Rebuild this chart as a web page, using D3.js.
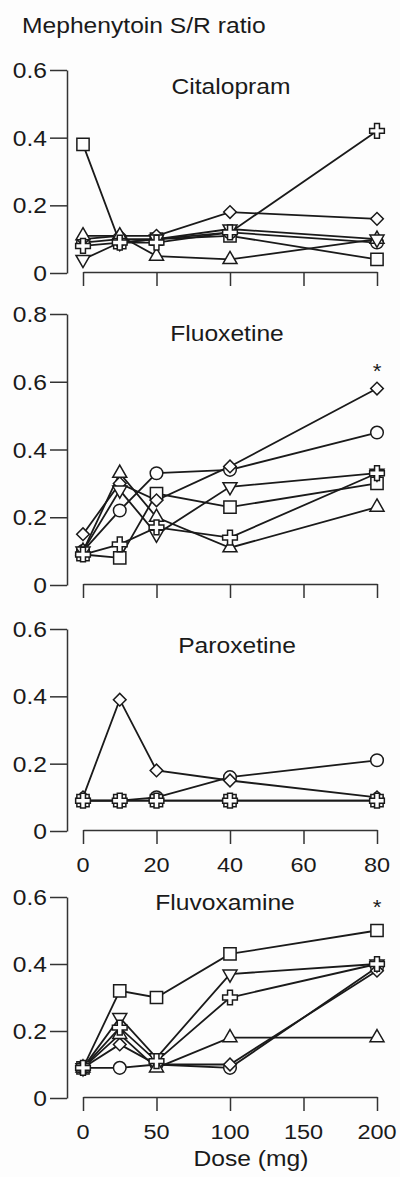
<!DOCTYPE html>
<html>
<head>
<meta charset="utf-8">
<script src="https://cdn.jsdelivr.net/npm/d3@7"></script>
<style>
  body { margin: 0; background: #fdfdfd; }
  svg { display: block; }
</style>
</head>
<body>
<div id="chart"></div>
<script>
(function(){

  var width = 400;
  var height = 1177;

  // doses per panel
  var dosesLow = [0, 10, 20, 40, 80];
  var dosesFluvox = [0, 25, 50, 100, 200];

  // tick labels
  var yTicks06 = [0, 0.2, 0.4, 0.6];
  var yTicks08 = [0, 0.2, 0.4, 0.6, 0.8];
  var xTicksLow = [0, 20, 40, 60, 80];
  var xTicksFluvox = [0, 50, 100, 150, 200];

  // Citalopram, one array per subject (marker shape)
  var citSquare   = [0.38, 0.09, 0.10, 0.11, 0.04];
  var citCircle   = [0.09, 0.10, 0.10, 0.12, 0.09];
  var citDiamond  = [0.10, 0.11, 0.11, 0.18, 0.16];
  var citTriUp    = [0.11, 0.11, 0.05, 0.04, 0.10];
  var citTriDown  = [0.04, 0.09, 0.10, 0.13, 0.10];
  var citCross    = [0.08, 0.09, 0.09, 0.12, 0.42];

  // Fluoxetine
  var fluoSquare  = [0.09, 0.08, 0.27, 0.23, 0.30];
  var fluoCircle  = [0.10, 0.22, 0.33, 0.34, 0.45];
  var fluoDiamond = [0.15, 0.30, 0.25, 0.35, 0.58];
  var fluoTriUp   = [0.10, 0.33, 0.20, 0.11, 0.23];
  var fluoTriDown = [0.10, 0.28, 0.15, 0.29, 0.33];
  var fluoCross   = [0.09, 0.12, 0.17, 0.14, 0.33];

  // Paroxetine
  var parSquare   = [0.09, 0.09, 0.09, 0.09, 0.09];
  var parCircle   = [0.09, 0.09, 0.10, 0.16, 0.21];
  var parDiamond  = [0.10, 0.39, 0.18, 0.15, 0.10];
  var parCross    = [0.09, 0.09, 0.09, 0.09, 0.09];

  // Fluvoxamine
  var fluvSquare  = [0.09, 0.32, 0.30, 0.43, 0.50];
  var fluvCircle  = [0.09, 0.09, 0.10, 0.09, 0.39];
  var fluvDiamond = [0.09, 0.16, 0.10, 0.10, 0.38];
  var fluvTriUp   = [0.09, 0.19, 0.09, 0.18, 0.18];
  var fluvTriDown = [0.09, 0.24, 0.12, 0.37, 0.40];
  var fluvCross   = [0.09, 0.21, 0.11, 0.30, 0.40];

  var ink = '#1a1a1a';
  var font = '"Liberation Sans", Arial, sans-serif';
  var sx = 1.12; // the scanned lettering is a bit wide

  var panels = [
    { name: 'Citalopram', doses: dosesLow, xMax: 80, xTicks: xTicksLow, showX: false,
      yMax: 0.6, yTicks: yTicks06, yRange: [273, 70], titleX: 231, titleY: 0.53, star: null,
      series: [['square', citSquare], ['circle', citCircle], ['diamond', citDiamond],
               ['triUp', citTriUp], ['triDown', citTriDown], ['cross', citCross]] },
    { name: 'Fluoxetine', doses: dosesLow, xMax: 80, xTicks: xTicksLow, showX: false,
      yMax: 0.8, yTicks: yTicks08, yRange: [585, 314], titleX: 227, titleY: 0.72, star: 0.64,
      series: [['square', fluoSquare], ['circle', fluoCircle], ['diamond', fluoDiamond],
               ['triUp', fluoTriUp], ['triDown', fluoTriDown], ['cross', fluoCross]] },
    { name: 'Paroxetine', doses: dosesLow, xMax: 80, xTicks: xTicksLow, showX: true,
      yMax: 0.6, yTicks: yTicks06, yRange: [831, 629], titleX: 237, titleY: 0.53, star: null,
      series: [['circle', parCircle], ['diamond', parDiamond],
               ['square', parSquare], ['cross', parCross]] },
    { name: 'Fluvoxamine', doses: dosesFluvox, xMax: 200, xTicks: xTicksFluvox, showX: true,
      yMax: 0.6, yTicks: yTicks06, yRange: [1098, 897], titleX: 225, titleY: 0.56, star: 0.58,
      series: [['square', fluvSquare], ['circle', fluvCircle], ['diamond', fluvDiamond],
               ['triUp', fluvTriUp], ['triDown', fluvTriDown], ['cross', fluvCross]] }
  ];

  var svg = d3.select('#chart')
      .append('svg')
      .attr('width', width)
      .attr('height', height);

  var addText = function(sel, str, x, y, size, anchor){
    return sel.append('text')
      .attr('transform', 'translate(' + x + ',' + y + ') scale(' + sx + ',1)')
      .attr('text-anchor', anchor || 'start')
      .attr('font-family', font)
      .attr('font-size', size + 'px')
      .attr('fill', ink)
      .text(str);
  };

  var symbolPath = function(shape){
    if(shape == 'square') return d3.symbol(d3.symbolSquare, 150)();
    if(shape == 'circle') return d3.symbol(d3.symbolCircle, 125)();
    if(shape == 'diamond') return d3.symbol(d3.symbolSquare, 80)();
    if(shape == 'triUp' || shape == 'triDown') return d3.symbol(d3.symbolTriangle, 85)();
    return d3.symbol(d3.symbolCross, 120)();
  };
  var symbolRotate = function(shape){
    if(shape == 'diamond') return 45;
    if(shape == 'triDown') return 180;
    return 0;
  };

  addText(svg, 'Mephenytoin S/R ratio', 22, 33, 22);

  panels.forEach(function(p){
    var x = d3.scaleLinear().domain([0, p.xMax]).range([83, 377]);
    var y = d3.scaleLinear().domain([0, p.yMax]).range(p.yRange);
    var g = svg.append('g');

    // y axis
    var yAxis = g.append('g')
      .attr('transform', 'translate(67,0)')
      .call(d3.axisLeft(y).tickValues(p.yTicks).tickSize(17).tickSizeOuter(0).tickFormat(d3.format('')));
    yAxis.select('.domain').attr('stroke', '#333').attr('stroke-width', 1.5);
    yAxis.selectAll('.tick line').attr('stroke', '#333').attr('stroke-width', 1.5);
    yAxis.selectAll('.tick text').remove();
    p.yTicks.forEach(function(t){
      addText(g, d3.format('')(t), 47, y(t) + 8, 22, 'end');
    });

    // x axis (detached, hanging ticks)
    var xAxis = g.append('g')
      .attr('transform', 'translate(0,' + (y(0) - 1) + ')')
      .call(d3.axisBottom(x).tickValues(p.xTicks).tickSize(14).tickSizeOuter(0));
    xAxis.select('.domain').attr('stroke', '#333').attr('stroke-width', 1.5);
    xAxis.selectAll('.tick line').attr('stroke', '#333').attr('stroke-width', 1.5);
    xAxis.selectAll('.tick text').remove();
    if(p.showX){
      p.xTicks.forEach(function(t){
        addText(g, t, x(t), y(0) + 41, 21, 'middle');
      });
    }

    addText(g, p.name, p.titleX, y(p.titleY), 22, 'middle');
    if(p.star !== null){
      addText(g, '*', x(p.xMax), y(p.star) + 10, 20, 'middle');
    }

    var line = d3.line()
      .x(function(d){ return x(d.dose); })
      .y(function(d){ return y(d.v); });

    var rows = p.series.map(function(s){
      return { shape: s[0], pts: s[1].map(function(v, i){ return { dose: p.doses[i], v: v }; }) };
    });

    g.selectAll('path.series')
      .data(rows)
      .enter()
      .append('path')
        .attr('class', 'series')
        .attr('d', function(d){ return line(d.pts); })
        .attr('fill', 'none')
        .attr('stroke', ink)
        .attr('stroke-width', 1.8);

    rows.forEach(function(r){
      g.selectAll(null)
        .data(r.pts)
        .enter()
        .append('path')
          .attr('d', symbolPath(r.shape))
          .attr('transform', function(d){
            return 'translate(' + x(d.dose) + ',' + y(d.v) + ') rotate(' + symbolRotate(r.shape) + ')';
          })
          .attr('fill', '#fdfdfd')
          .attr('stroke', ink)
          .attr('stroke-width', 1.5);
    });
  });

  addText(svg, 'Dose (mg)', 251, 1166, 22, 'middle');

})();
</script>
</body>
</html>
